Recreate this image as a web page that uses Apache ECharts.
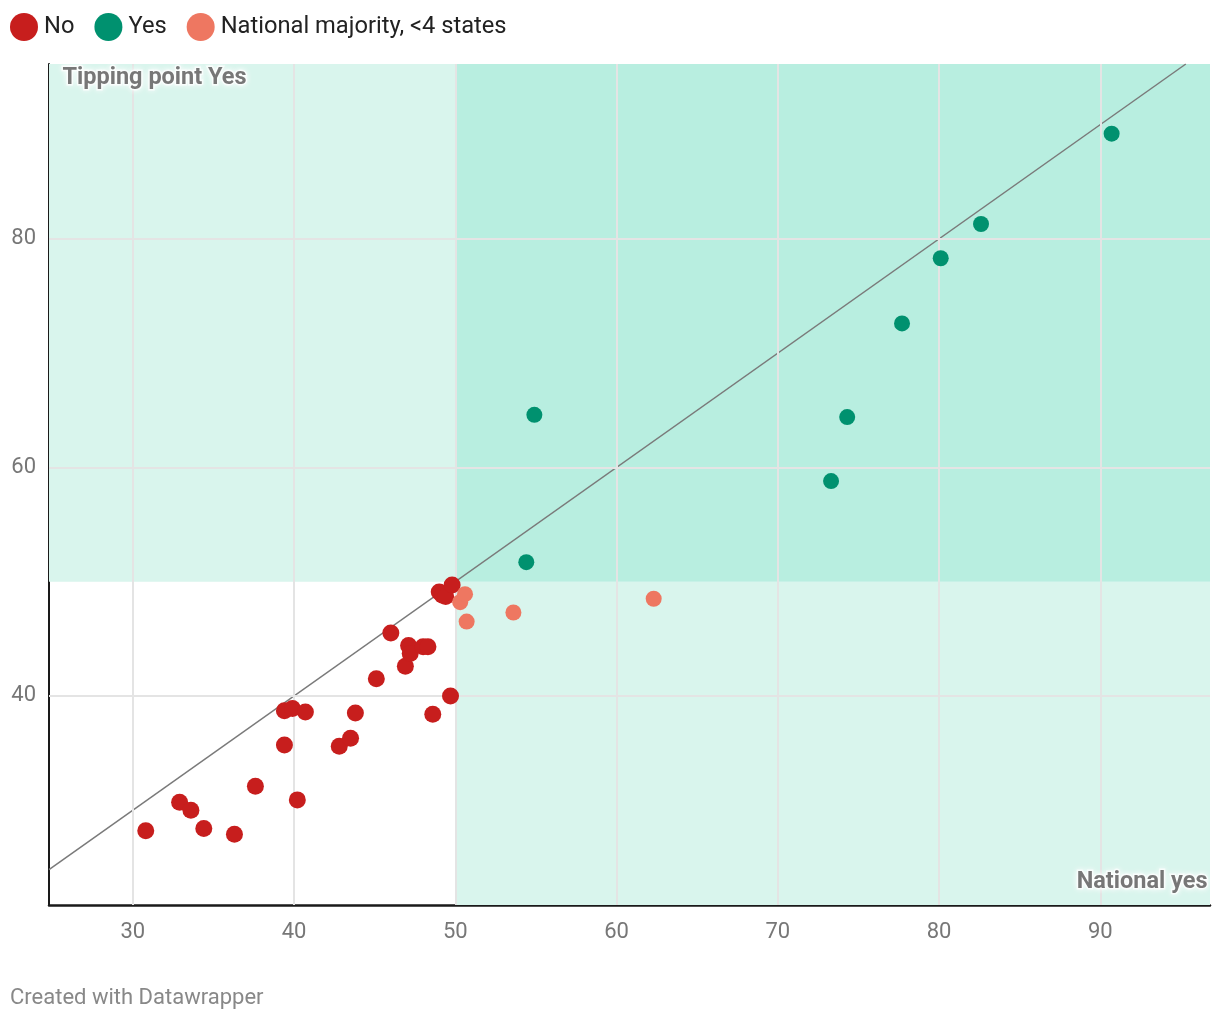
<!DOCTYPE html>
<html>
<head>
<meta charset="utf-8">
<script src="https://cdn.jsdelivr.net/npm/echarts@6/dist/echarts.min.js"></script>
<style>
html,body{margin:0;padding:0;background:#fff;}
#chart{width:1220px;height:1022px;}
</style>
</head>
<body>
<div id="chart"></div>
<script>
// Data: [national yes %, tipping point yes %]
const noPoints = [
  [30.8,28.2],[32.9,30.7],[33.6,30.0],[34.4,28.4],[36.3,27.9],[37.6,32.1],
  [39.4,35.7],[39.4,38.7],[39.9,38.9],[40.7,38.6],[40.2,30.9],[42.8,35.6],
  [43.5,36.3],[43.8,38.5],[45.1,41.5],[46.0,45.5],[46.9,42.6],[47.1,44.4],
  [47.2,43.7],[48.0,44.3],[48.3,44.3],[48.6,38.4],[49.7,40.0],[49.0,49.1],
  [49.2,48.8],[49.4,48.7],[49.8,49.7]
];
const yesPoints = [
  [54.4,51.7],[54.9,64.6],[73.3,58.8],[74.3,64.4],[77.7,72.6],[80.1,78.3],
  [82.6,81.3],[90.7,89.2]
];
const majorityPoints = [
  [50.3,48.2],[50.6,48.9],[50.7,46.5],[53.6,47.3],[62.3,48.5]
];
const xTicks = [30,40,50,60,70,80,90];
const yTicks = [40,60,80];
const xRange = [24.8, 96.8];
const yRange = [21.7, 95.3];
const threshold = 50;

const chart = echarts.init(document.getElementById('chart'));
const font = 'Roboto, "Noto Sans", sans-serif';

const option = {
  animation: false,
  textStyle: {fontFamily: font},
  legend: {
    left: 10, top: 13, padding: 0,
    icon: 'circle',
    itemWidth: 28, itemHeight: 28, itemGap: 20,
    textStyle: {fontSize: 23.7, color: '#222', fontFamily: font, padding: [0,0,0,1]},
    data: ['No','Yes','National majority, <4 states']
  },
  grid: {left: 49, right: 10, top: 64, bottom: 117, containLabel: false},
  xAxis: {
    type: 'value', min: xRange[0], max: xRange[1],
    axisLine: {show: true, onZero: false, lineStyle: {color: '#1a1a1a', width: 2.5}},
    axisTick: {show: false},
    splitLine: {show: false},
    axisLabel: {customValues: xTicks, color: '#777', fontSize: 22, margin: 16, fontFamily: font}
  },
  yAxis: {
    type: 'value', min: yRange[0], max: yRange[1],
    axisLine: {show: true, onZero: false, lineStyle: {color: '#1a1a1a', width: 2}},
    axisTick: {show: false},
    splitLine: {show: false},
    axisLabel: {customValues: yTicks, color: '#777', fontSize: 22, margin: 13, fontFamily: font}
  },
  series: [
    {
      type: 'scatter', data: [], z: 1, silent: true,
      markArea: {
        silent: true,
        data: [
          [{xAxis: xRange[0], yAxis: threshold, itemStyle: {color: '#d9f5ed'}}, {xAxis: threshold, yAxis: yRange[1]}],
          [{xAxis: threshold, yAxis: yRange[0], itemStyle: {color: '#d9f5ed'}}, {xAxis: xRange[1], yAxis: threshold}],
          [{xAxis: threshold, yAxis: threshold, itemStyle: {color: '#b8eee0'}}, {xAxis: xRange[1], yAxis: yRange[1]}]
        ]
      }
    },
    {
      type: 'scatter', data: [], z: 2, silent: true,
      markLine: {
        silent: true, symbol: 'none', label: {show: false},
        lineStyle: {color: '#e4e4e4', width: 2, type: 'solid'},
        data: xTicks.map(v => ({xAxis: v})).concat(yTicks.map(v => ({yAxis: v})))
      }
    },
    {
      type: 'line', z: 3, silent: true, symbol: 'none',
      data: [[xRange[0], xRange[0]], [yRange[1], yRange[1]]],
      lineStyle: {color: '#7a7a7a', width: 1.5}
    },
    {
      name: 'No', type: 'scatter', z: 5, data: noPoints,
      symbolSize: 17, itemStyle: {color: '#c71e1d', opacity: 1}
    },
    {
      name: 'Yes', type: 'scatter', z: 5, data: yesPoints,
      symbolSize: 16, itemStyle: {color: '#00916f', opacity: 1}
    },
    {
      name: 'National majority, <4 states', type: 'scatter', z: 5, data: majorityPoints,
      symbolSize: 16, itemStyle: {color: '#ee7761', opacity: 1}
    }
  ],
  graphic: [
    {
      type: 'text', left: 61, top: 65, z: 10,
      style: {text: 'Tipping point Yes', fill: '#777', font: 'bold 23.5px ' + font,
        stroke: 'rgba(255,255,255,0.7)', lineWidth: 3,
        textShadowColor: '#fff', textShadowBlur: 6}
    },
    {
      type: 'text', right: 11, top: 869, z: 10,
      style: {text: 'National yes', fill: '#777', font: 'bold 23.5px ' + font,
        stroke: 'rgba(255,255,255,0.7)', lineWidth: 3,
        textShadowColor: '#fff', textShadowBlur: 6}
    },
    {
      type: 'text', left: 10, top: 987, z: 10,
      style: {text: 'Created with Datawrapper', fill: '#888', font: '22px ' + font}
    }
  ]
};
chart.setOption(option);
</script>
</body>
</html>
